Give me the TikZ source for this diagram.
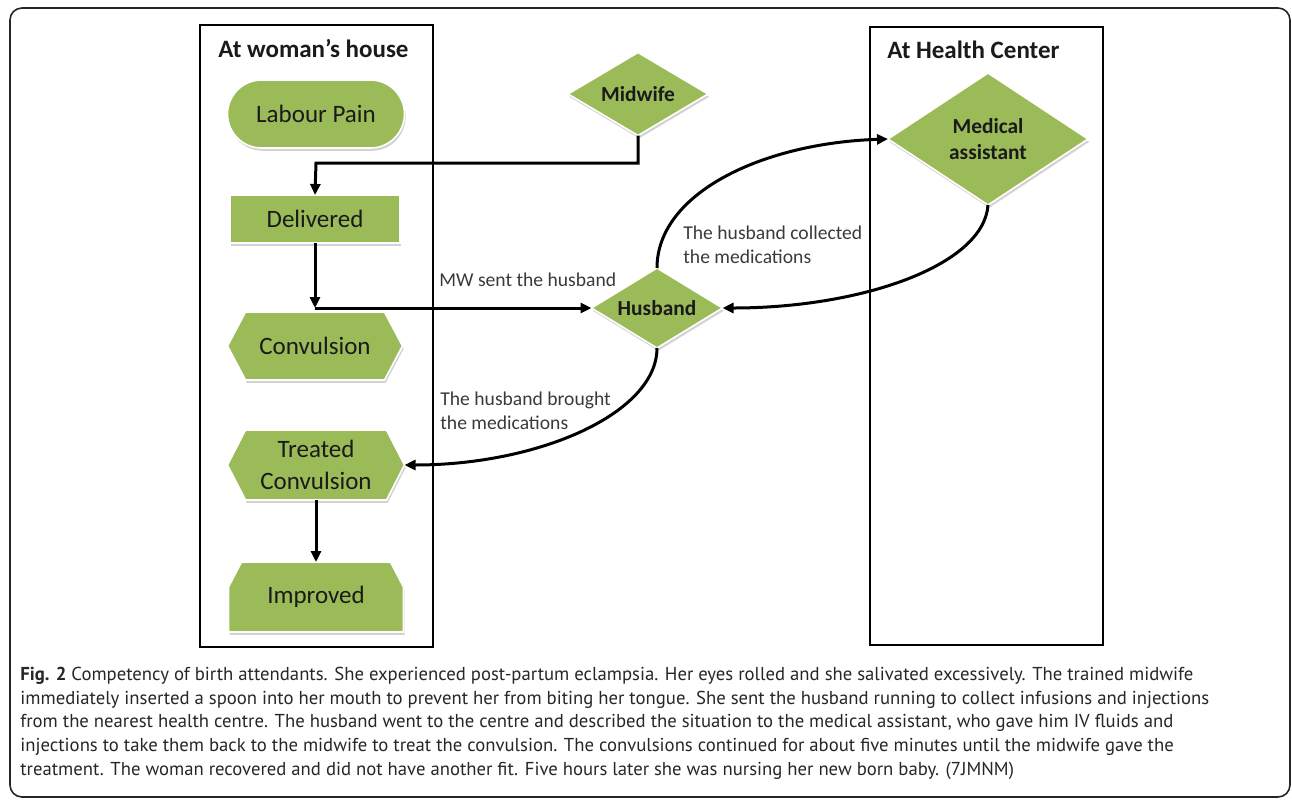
\documentclass[tikz,border=0pt]{standalone}
\usepackage{fontspec}
\setmainfont{Carlito}
\newfontfamily\capfont{PT Sans}
\usetikzlibrary{arrows.meta,calc,backgrounds,shadows}
\definecolor{leaf}{HTML}{9BBB59}
\definecolor{ink}{HTML}{1A1A1A}
\definecolor{lbl}{HTML}{3A3A3A}
\definecolor{captxt}{HTML}{262626}
\tikzset{
 holder/.style={inner sep=0pt, outer sep=0pt, align=center, text=ink, font=\fontsize{12.5pt}{16pt}\selectfont},
 dholder/.style={holder, font=\bfseries\fontsize{10.7pt}{13pt}\selectfont},
 leafpath/.style={fill=leaf, draw=white, line width=0.8pt, drop shadow={shadow xshift=0.6pt, shadow yshift=-1.4pt, fill=black!35, opacity=0.5}},
 zone/.style={draw=black, line width=1.3pt},
 arr/.style={line width=1.5pt, -{Triangle[length=5.5pt,width=5pt]}},
 lab/.style={anchor=west, inner sep=0pt, text=lbl, font=\fontsize{9.8pt}{12pt}\selectfont, align=left},
 ttl/.style={anchor=west, inner sep=0pt, text=ink, font=\bfseries\fontsize{12.5pt}{15pt}\selectfont},
 capline/.style={anchor=base west, inner sep=0pt, text=captxt, font=\capfont\fontsize{\capsz pt}{12pt}\selectfont},
}
\newsavebox\capmeasure
\AtBeginDocument{%
 \sbox\capmeasure{\capfont\fontsize{10pt}{12pt}\selectfont\textbf{Fig. 2} Competency of birth attendants. She experienced post-partum eclampsia. Her eyes rolled and she salivated excessively. The trained midwife}%
 \pgfmathsetmacro\capsz{10*586.5/\the\wd\capmeasure}%
 \global\let\capsz\capsz}
\begin{document}
\begin{tikzpicture}[x=0.5pt,y=-0.5pt]
\useasboundingbox (0,0) rectangle (1292,799);
\draw[line width=0.8pt, draw=black!85, rounded corners=6pt] (10,8) rectangle (1290,797);

% zones
\draw[zone] (200,25) rectangle (433,647);
\draw[zone] (870,27) rectangle (1103,645);
\node[ttl] (t1) at (218,48) {At woman's house};
\node[ttl] (t2) at (887,50) {At Health Center};

% nodes
\node[holder, minimum width=88.5pt, minimum height=34pt] (lp) at (316,114) {Labour Pain};
\node[holder, minimum width=85pt, minimum height=24pt] (del) at (315,219) {Delivered};
\node[holder, minimum width=87.5pt, minimum height=34pt] (cv) at (315,346) {Convulsion};
\node[holder, minimum width=88.5pt, minimum height=35pt] (tc) at (316,465) {Treated\\Convulsion};
\node[holder, minimum width=87.5pt, minimum height=35pt] (im) at (316,597) {Improved};
\node[dholder, minimum width=70pt, minimum height=41.5pt] (mw) at (638,94) {Midwife};
\node[dholder, minimum width=100pt, minimum height=66pt] (ma) at (988,139) {Medical\\assistant};
\node[dholder, minimum width=65.5pt, minimum height=40pt] (hus) at (657,308) {Husband};

\begin{scope}[on background layer]
 \path[leafpath, rounded corners=17pt] (lp.south west) rectangle (lp.north east);
 \path[leafpath] (del.south west) rectangle (del.north east);
 \path[leafpath] (cv.west) -- ($(cv.north west)+(18,0)$) -- ($(cv.north east)+(-18,0)$) -- (cv.east) -- ($(cv.south east)+(-18,0)$) -- ($(cv.south west)+(18,0)$) -- cycle;
 \path[leafpath] (tc.west) -- ($(tc.north west)+(18,0)$) -- ($(tc.north east)+(-18,0)$) -- (tc.east) -- ($(tc.south east)+(-18,0)$) -- ($(tc.south west)+(18,0)$) -- cycle;
 \path[leafpath] (im.south west) -- ($(im.north west)+(0,25)$) -- ($(im.north west)+(13,0)$) -- ($(im.north east)+(-13,0)$) -- ($(im.north east)+(0,25)$) -- (im.south east) -- cycle;
 \path[leafpath] (mw.north) -- (mw.east) -- (mw.south) -- (mw.west) -- cycle;
 \path[leafpath] (ma.north) -- (ma.east) -- (ma.south) -- (ma.west) -- cycle;
 \path[leafpath] (hus.north) -- (hus.east) -- (hus.south) -- (hus.west) -- cycle;
\end{scope}

% connectors
\coordinate (mwturn) at (316,163);
\draw[arr] (mw.south) |- (mwturn) -- (del.north);
\coordinate (junc) at (del.south |- hus.west);
\draw[arr] (del.south) -- (junc);
\draw[arr] (junc) -- (hus.west);
\draw[arr] (hus.north) .. controls +(0,-75) and +(-125,4) .. (ma.west);
\draw[arr] (ma.south) .. controls +(-4,60) and +(140,0) .. (hus.east);
\draw[arr] (hus.south) .. controls +(0,65) and +(135,0) .. (tc.east);
\draw[arr] (tc.south) -- (im.north);

% labels
\node[lab] (l1) at (439,280) {MW sent the husband};
\node[lab] (l2) at (683,245) {The husband collected\\the medications};
\node[lab] (l3) at (440,411) {The husband brought\\the medications};

% caption
\node[capline] (c1) at (20,680) {\textbf{Fig. 2} Competency of birth attendants. She experienced post-partum eclampsia. Her eyes rolled and she salivated excessively. The trained midwife};
\node[capline] (c2) at (20,704) {immediately inserted a spoon into her mouth to prevent her from biting her tongue. She sent the husband running to collect infusions and injections};
\node[capline] (c3) at (20,727) {from the nearest health centre. The husband went to the centre and described the situation to the medical assistant, who gave him IV fluids and};
\node[capline] (c4) at (20,751) {injections to take them back to the midwife to treat the convulsion. The convulsions continued for about five minutes until the midwife gave the};
\node[capline] (c5) at (20,775) {treatment. The woman recovered and did not have another fit. Five hours later she was nursing her new born baby. (7JMNM)};
\end{tikzpicture}
\end{document}
